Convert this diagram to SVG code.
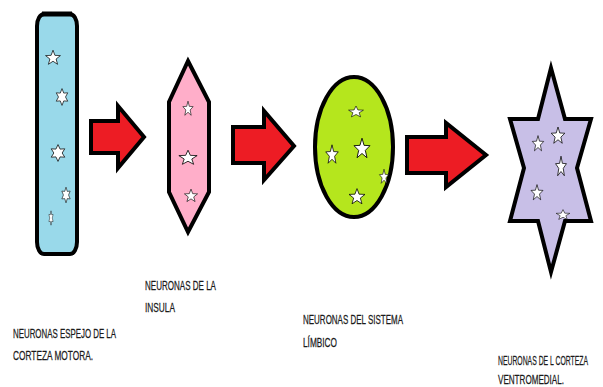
<svg xmlns="http://www.w3.org/2000/svg" xmlns:xlink="http://www.w3.org/1999/xlink" width="603" height="387" viewBox="0 0 603 387">
<style>
.shape{stroke:#000;stroke-width:4;stroke-linejoin:miter}
.arrow{fill:#ed1c24;stroke:#000;stroke-width:4;stroke-linejoin:miter}
.star{fill:#fff;stroke:#000;stroke-width:0.55}
.lbl{font-family:"Liberation Sans Narrow","Liberation Sans",Arial,sans-serif;font-size:13px;fill:#1a1a1a;stroke:#1a1a1a;stroke-width:0.25}
</style>
<defs>
<path id="s5" class="star" d="M0,-6 L1.47,-2.02 5.71,-1.85 2.38,0.77 3.53,4.85 0,2.5 -3.53,4.85 -2.38,0.77 -5.71,-1.85 -1.47,-2.02Z"/>
<path id="s6" class="star" d="M0,-6 L1.6,-2.77 5.2,-3 3.2,0 5.2,3 1.6,2.77 0,6 -1.6,2.77 -5.2,3 -3.2,0 -5.2,-3 -1.6,-2.77Z"/>
</defs>
<rect width="603" height="387" fill="#fff"/>
<g id="connectors">
<polygon class="arrow" points="91,121 118,121 118,106 144,137 118,168 118,153 91,153"/>
<polygon class="arrow" points="233,127 264,127 264,111 294,146 264,180 264,163 233,163"/>
<polygon class="arrow" points="407,137 446,137 446,123 486,155 446,187 446,173 407,173"/>
</g>
<g id="node1">
<rect class="shape" x="37" y="14" width="40" height="240" rx="7" ry="12" fill="#99d9ea"/>
<path d="M42,14 L72,14" stroke="#000" stroke-width="5"/>
<use xlink:href="#s5" transform="translate(53,58) scale(1.3)"/>
<use xlink:href="#s6" transform="translate(62,97) scale(1.1,1.4)"/>
<use xlink:href="#s6" transform="translate(58,153) scale(1.3,1.4)"/>
<use xlink:href="#s6" transform="translate(66,195) scale(0.8,1.3)"/>
<use xlink:href="#s6" transform="translate(51,218) scale(0.4,1.2)"/>
<text class="lbl" transform="translate(13,338) scale(0.6,1)" textLength="171.7" lengthAdjust="spacingAndGlyphs">NEURONAS ESPEJO DE LA</text>
<text class="lbl" transform="translate(13,360) scale(0.6,1)" textLength="133.3" lengthAdjust="spacingAndGlyphs">CORTEZA MOTORA.</text>
</g>
<g id="node2">
<polygon class="shape" points="188,61 209,102 209,192 188,232 169,192 169,102" fill="#ffaec9"/>
<use xlink:href="#s5" transform="translate(188,109) scale(0.9,1.3)"/>
<use xlink:href="#s5" transform="translate(188,158) scale(1.6,1.3)"/>
<use xlink:href="#s5" transform="translate(191,196) scale(1.15)"/>
<text class="lbl" transform="translate(145,290) scale(0.6,1)" textLength="118.3" lengthAdjust="spacingAndGlyphs">NEURONAS DE LA</text>
<text class="lbl" transform="translate(145,312) scale(0.6,1)" textLength="50" lengthAdjust="spacingAndGlyphs">INSULA</text>
</g>
<g id="node3">
<ellipse class="shape" cx="354" cy="147" rx="39" ry="70" fill="#b5e61d"/>
<use xlink:href="#s5" transform="translate(356,112) scale(1.3,1.0)"/>
<use xlink:href="#s5" transform="translate(362,149) scale(1.4,1.8)"/>
<use xlink:href="#s5" transform="translate(332,155) scale(1.1,1.7)"/>
<use xlink:href="#s5" transform="translate(384,177) scale(0.8,1.3)"/>
<use xlink:href="#s5" transform="translate(357,197) scale(1.4)"/>
<text class="lbl" transform="translate(303,324) scale(0.6,1)" textLength="166.7" lengthAdjust="spacingAndGlyphs">NEURONAS DEL SISTEMA</text>
<text class="lbl" transform="translate(303,347) scale(0.6,1)" textLength="56.7" lengthAdjust="spacingAndGlyphs">LÍMBICO</text>
</g>
<g id="node4">
<polygon class="shape" points="551,68 538,119 510,119 524,168 510,221 538,221 551,272 565,221 591,221 577,168 591,119 565,119" fill="#c8bfe7"/>
<use xlink:href="#s5" transform="translate(538,144) scale(1.0,1.4)"/>
<use xlink:href="#s5" transform="translate(558,136) scale(1.2,1.5)"/>
<use xlink:href="#s5" transform="translate(561,167) scale(0.95,1.8)"/>
<use xlink:href="#s5" transform="translate(537,193) scale(1.05,1.4)"/>
<use xlink:href="#s5" transform="translate(563,215) scale(1.2,0.9)"/>
<text class="lbl" transform="translate(498,365) scale(0.6,1)" textLength="150" lengthAdjust="spacingAndGlyphs">NEURONAS DE L CORTEZA</text>
<text class="lbl" transform="translate(498,384) scale(0.6,1)" textLength="110" lengthAdjust="spacingAndGlyphs">VENTROMEDIAL.</text>
</g>
</svg>
